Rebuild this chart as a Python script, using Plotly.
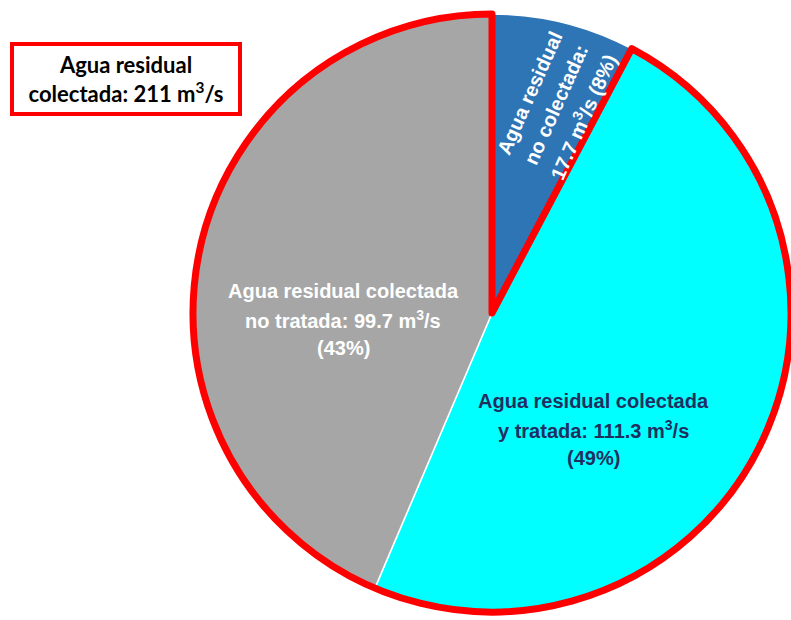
import math
import plotly.graph_objects as go

# ---- data ----
categories = ["Agua residual\nno colectada", "Agua residual colectada\ny tratada", "Agua residual colectada\nno tratada"]
values = [17.7, 111.3, 99.7]          # m3/s
percents = [8, 49, 43]                # as printed on the chart
colors = ["#2E75B6", "#00FFFF", "#A6A6A6"]

collected_total = values[1] + values[2]

W, H = 791, 620

fig = go.Figure()

dom = dict(x=[193 / W, 1], y=[1 - 613 / H, 1 - 13 / H])

# main pie
fig.add_trace(go.Pie(
    values=values,
    labels=categories,
    sort=False,
    direction="clockwise",
    rotation=0,
    marker=dict(colors=colors, line=dict(color="white", width=1.5)),
    textinfo="none",
    hoverinfo="label+value",
    showlegend=False,
    domain=dom,
))

# red outline around the collected part (treated + untreated)
fig.add_trace(go.Pie(
    values=[values[0], collected_total],
    labels=["no colectada", "colectada"],
    sort=False,
    direction="clockwise",
    rotation=0,
    marker=dict(colors=["rgba(0,0,0,0)", "rgba(0,0,0,0)"],
                line=dict(color=["rgba(0,0,0,0)", "#FF0000"], width=[0, 7])),
    textinfo="none",
    hoverinfo="skip",
    showlegend=False,
    domain=dom,
))

lab_font = dict(family="Liberation Sans, Arial, sans-serif", size=20)
LS = 28.5  # line spacing, px


def fmt(v):
    return "%.1f" % v


annotations = []


def add_lines(cx, cy, lines, color, angle=0):
    n = len(lines)
    a = math.radians(angle)
    # direction from one text line to the next, in screen pixels (y down)
    dx, dy = math.sin(a) * -1 if angle else 0, 1
    if angle:
        dx, dy = math.sin(math.radians(-angle)), math.cos(math.radians(-angle))
    for i, t in enumerate(lines):
        k = i - (n - 1) / 2
        annotations.append(dict(
            x=cx / W, y=1 - cy / H, xref="paper", yref="paper",
            xshift=k * LS * dx, yshift=-k * LS * dy,
            showarrow=False, xanchor="center", yanchor="middle",
            textangle=angle, text="<b>%s</b>" % t,
            font=dict(color=color, **lab_font)))


add_lines(556, 105, ["Agua residual", "no colectada:",
                     "%s m<sup>3</sup>/s (%d%%)" % (fmt(values[0]), percents[0])],
          "white", angle=-66)
add_lines(593, 429, ["Agua residual colectada",
                     "y tratada: %s m<sup>3</sup>/s" % fmt(values[1]),
                     "(%d%%)" % percents[1]], "#1F2F5F")
add_lines(343, 319, ["Agua residual colectada",
                     "no tratada: %s m<sup>3</sup>/s" % fmt(values[2]),
                     "(%d%%)" % percents[2]], "white")

# box
annotations.append(dict(
    x=126 / W, y=1 - 79 / H, xref="paper", yref="paper", showarrow=False,
    xanchor="center", yanchor="middle",
    text="<b>Agua residual<br>colectada: %d m<sup>3</sup>/s</b>" % round(collected_total),
    font=dict(family="Lato, Carlito, sans-serif", size=22, color="black"),
    bgcolor="white", bordercolor="#FF0000", borderwidth=4, borderpad=2,
    width=220, height=62))

fig.update_layout(
    width=W, height=H,
    margin=dict(l=0, r=0, t=0, b=0),
    paper_bgcolor="white",
    plot_bgcolor="white",
    annotations=annotations,
)

fig.write_html("out.html", config={"displayModeBar": False},
               post_script="document.body.style.margin='0';")
